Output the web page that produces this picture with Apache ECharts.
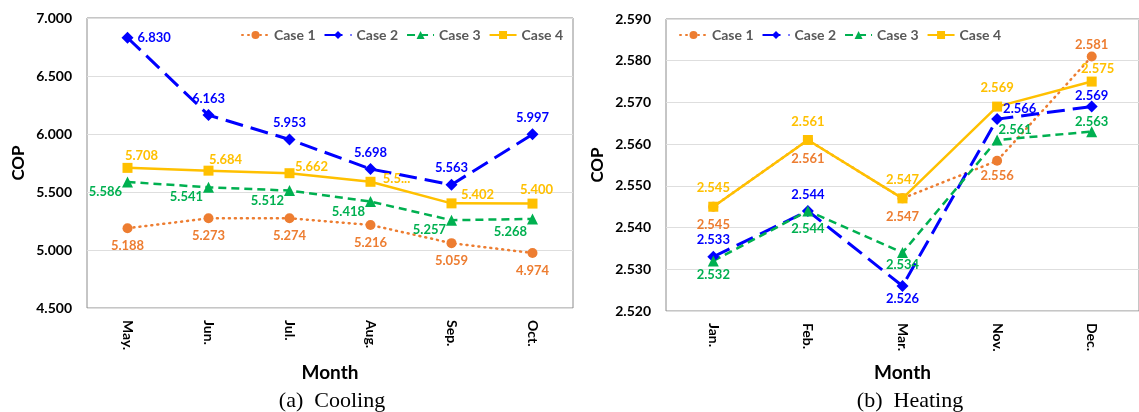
<!DOCTYPE html>
<html>
<head>
<meta charset="utf-8">
<script src="https://cdn.jsdelivr.net/npm/echarts@6/dist/echarts.min.js"></script>
<style>
  html, body { margin: 0; padding: 0; background: #fff; }
  #chart { width: 1139px; height: 412px; }
</style>
</head>
<body>
<div id="chart"></div>
<script>
  // cooling season (a)
  const coolMonths = ['May.', 'Jun.', 'Jul.', 'Aug.', 'Sep.', 'Oct.']
  const coolCase1 = [5.188, 5.273, 5.274, 5.216, 5.059, 4.974]
  const coolCase2 = [6.830, 6.163, 5.953, 5.698, 5.563, 5.997]
  const coolCase3 = [5.586, 5.541, 5.512, 5.418, 5.257, 5.268]
  const coolCase4 = [5.708, 5.684, 5.662, 5.588, 5.402, 5.400]
  const coolTicks = [4.5, 5.0, 5.5, 6.0, 6.5, 7.0]

  // heating season (b)
  const heatMonths = ['Jan.', 'Feb.', 'Mar.', 'Nov.', 'Dec.']
  const heatCase1 = [2.545, 2.561, 2.547, 2.556, 2.581]
  const heatCase2 = [2.533, 2.544, 2.526, 2.566, 2.569]
  const heatCase3 = [2.532, 2.544, 2.534, 2.561, 2.563]
  const heatCase4 = [2.545, 2.561, 2.547, 2.569, 2.575]
  const heatTicks = [2.52, 2.53, 2.54, 2.55, 2.56, 2.57, 2.58, 2.59]

  const caseNames = ['Case 1', 'Case 2', 'Case 3', 'Case 4']
  const font = 'Lato'

  const styles = {
    'Case 1': {color: '#ED7D31', symbol: 'circle', size: 10, line: {width: 2.5, type: [1, 5], cap: 'round'}},
    'Case 2': {color: '#0000FF', symbol: 'diamond', size: 12, line: {width: 3, type: [18, 8]}},
    'Case 3': {color: '#00B050', symbol: 'triangle', size: 11, line: {width: 2.5, type: [8, 5]}},
    'Case 4': {color: '#FFC000', symbol: 'rect', size: 10, line: {width: 2.5, type: 'solid'}}
  }

  // where each data label sits (Excel-like placement)
  const coolLabels = {
    'Case 1': {position: 'bottom', distance: 6},
    'Case 2': {position: 'top', distance: 4, points: {0: {position: 'right', distance: 4}}},
    'Case 3': {position: 'left', distance: 0, offset: [0, 10], points: {5: {offset: [0, 13]}}},
    'Case 4': {position: 'top', distance: 0, points: {
      0: {offset: [14, -1]}, 1: {offset: [17, 1]}, 2: {offset: [22, 5]},
      3: {offset: [26, 9], formatter: '5.5...'}, 4: {offset: [26, 3]}, 5: {offset: [4, -2]}
    }}
  }
  const heatLabels = {
    'Case 1': {position: 'bottom', distance: 7, points: {3: {distance: 3}, 4: {position: 'top', distance: 0}}},
    'Case 2': {position: 'top', distance: 4, points: {
      2: {position: 'bottom', distance: 0}, 3: {position: 'right', distance: 0, offset: [0, -10]},
      4: {distance: -2}
    }},
    'Case 3': {position: 'bottom', distance: 2, points: {
      1: {distance: 6}, 2: {distance: 0}, 3: {position: 'right', distance: -4, offset: [0, -10]},
      4: {position: 'top', distance: -2}
    }},
    'Case 4': {position: 'top', distance: 7, points: {4: {offset: [6, 6]}}}
  }

  function makeSeries(name, values, idx, labels) {
    const s = styles[name]
    const cfg = labels[name]
    const pts = cfg.points || {}
    return {
      name: name,
      type: 'line',
      xAxisIndex: idx,
      yAxisIndex: idx,
      symbol: s.symbol,
      symbolSize: s.size,
      color: s.color,
      lineStyle: Object.assign({color: s.color}, s.line),
      itemStyle: {color: s.color},
      label: {
        show: true,
        position: cfg.position,
        distance: cfg.distance,
        offset: cfg.offset || [0, 0],
        color: s.color,
        fontFamily: font,
        fontWeight: 'bold',
        fontSize: 13,
        formatter: p => Number(p.value).toFixed(3)
      },
      emphasis: {disabled: true},
      data: values.map((v, i) => pts[i] ? {value: v, label: pts[i]} : v)
    }
  }

  function makeGrid(left, top, width, height) {
    return {
      left: left, top: top, width: width, height: height,
      show: true, borderColor: '#8c8c8c', borderWidth: 1, backgroundColor: 'transparent'
    }
  }

  function makeX(idx, cats, gap) {
    return {
      type: 'category',
      gridIndex: idx,
      data: cats,
      boundaryGap: true,
      axisLine: {show: false},
      axisTick: {show: false},
      axisLabel: {rotate: -90, margin: 12, color: '#000', fontFamily: font, fontWeight: 'bold', fontSize: 14},
      name: 'Month',
      nameLocation: 'middle',
      nameGap: gap,
      nameTextStyle: {color: '#000', fontFamily: font, fontWeight: 'bold', fontSize: 19}
    }
  }

  function makeY(idx, ticks) {
    return {
      type: 'value',
      gridIndex: idx,
      min: ticks[0],
      max: ticks[ticks.length - 1],
      interval: Math.round((ticks[1] - ticks[0]) * 1000) / 1000,
      axisLine: {show: false},
      axisTick: {show: false},
      splitLine: {lineStyle: {color: '#dedede', width: 1}},
      axisLabel: {
        margin: 15, color: '#000', fontFamily: font, fontWeight: 'bold', fontSize: 14,
        formatter: v => v.toFixed(3)
      },
      name: 'COP',
      nameLocation: 'middle',
      nameGap: 60,
      nameTextStyle: {color: '#000', fontFamily: font, fontWeight: 'bold', fontSize: 17}
    }
  }

  function makeLegend(left) {
    return {
      left: left,
      top: 23,
      itemWidth: 27,
      itemHeight: 10,
      itemGap: 8,
      data: caseNames,
      textStyle: {color: '#595959', fontFamily: font, fontWeight: 'bold', fontSize: 14}
    }
  }

  const chart = echarts.init(document.getElementById('chart'), null, {renderer: 'canvas'})

  const coolData = [coolCase1, coolCase2, coolCase3, coolCase4]
  const heatData = [heatCase1, heatCase2, heatCase3, heatCase4]

  const option = {
    backgroundColor: '#fff',
    animation: false,
    title: [
      {text: '(a)  Cooling', left: 327, top: 385, textAlign: 'center',
        textStyle: {fontFamily: 'Liberation Serif', fontWeight: 'normal', fontSize: 22, color: '#000'}},
      {text: '(b)  Heating', left: 905, top: 385, textAlign: 'center',
        textStyle: {fontFamily: 'Liberation Serif', fontWeight: 'normal', fontSize: 22, color: '#000'}}
    ],
    legend: [makeLegend(236), makeLegend(674)],
    grid: [makeGrid(87, 18, 486, 290), makeGrid(666, 19, 480, 292)],
    xAxis: [makeX(0, coolMonths, 55), makeX(1, heatMonths, 52)],
    yAxis: [makeY(0, coolTicks), makeY(1, heatTicks)],
    series: caseNames.map((n, i) => makeSeries(n, coolData[i], 0, coolLabels))
      .concat(caseNames.map((n, i) => makeSeries(n, heatData[i], 1, heatLabels)))
  }

  chart.setOption(option)
  window.addEventListener('resize', () => chart.resize())
</script>
</body>
</html>
